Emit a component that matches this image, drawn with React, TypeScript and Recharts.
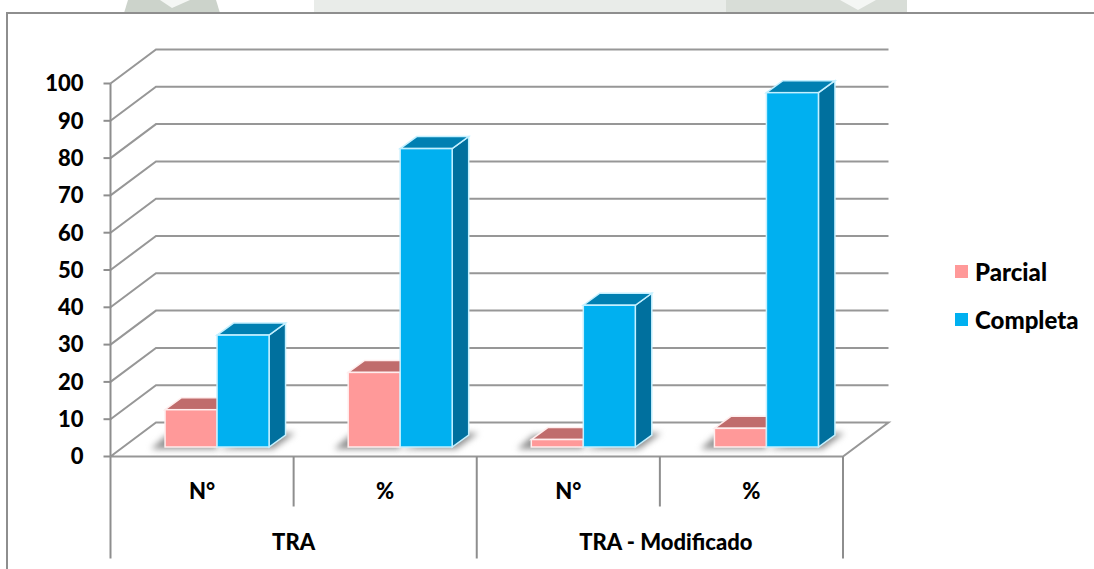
import { Bar, BarChart, CartesianGrid, Legend, XAxis, YAxis } from 'recharts'

const subLabels = ['N°', '%', 'N°', '%']
const groupLabels = ['TRA', 'TRA - Modificado']
const groupNudge = [0, 6]
const parcial = [10, 20, 2, 5]
const completa = [30, 80, 38, 95]
const yTicks = [0, 10, 20, 30, 40, 50, 60, 70, 80, 90, 100]

const chartData = subLabels.map((sub, i) => ({
  sub,
  Parcial: parcial[i],
  Completa: completa[i],
}))

const FONT = 'Lato, sans-serif'
const WEIGHT = 900
const GRID = '#979797'
const AXIS = '#8e8e8e'

const MARGIN = { top: 83.5, right: 251, bottom: 12.5, left: 60 }
const PLOT_LEFT = 110.5
const PLOT_RIGHT = 843
const PLOT_BOTTOM = 456.5
const BAND = (PLOT_RIGHT - PLOT_LEFT) / subLabels.length

// oblique offset of the back wall, and how far the bars stand from the front edge
const WALL_DX = 45.5
const WALL_DY = -34
const BAR_DX = 15
const BAR_DY = -9.5
const DEPTH_DX = 16.5
const DEPTH_DY = -12

function pts(list: number[][]) {
  return list.map((p) => p.join(',')).join(' ')
}

function WallLine({ x1, x2, y1 }: any) {
  // value 0 closes the floor, every other value runs along the side and back walls
  const points =
    y1 === PLOT_BOTTOM
      ? [
          [x1, y1],
          [x1 + WALL_DX, y1 + WALL_DY],
          [x2 + WALL_DX, y1 + WALL_DY],
          [x2, y1],
          [x1, y1],
        ]
      : [
          [x1, y1],
          [x1 + WALL_DX, y1 + WALL_DY],
          [x2 + WALL_DX, y1 + WALL_DY],
        ]
  return <polyline key={`wall-${y1}`} points={pts(points)} fill="none" stroke={GRID} strokeWidth={2} />
}

function Box({ x, y, width, height, front, top, side, edge, shadow }: any) {
  const l = x + BAR_DX
  const r = l + width
  const t = y + BAR_DY
  const b = t + height
  return (
    <g>
      <polygon points={pts(shadow(l, r, b))} fill="#8f8f8f" style={{ filter: 'blur(3px)' }} />
      <polygon
        points={pts([[r, t], [r + DEPTH_DX, t + DEPTH_DY], [r + DEPTH_DX, b + DEPTH_DY], [r, b]])}
        fill={side}
        stroke={edge}
        strokeWidth={1.5}
      />
      <polygon
        points={pts([[l, t], [l + DEPTH_DX, t + DEPTH_DY], [r + DEPTH_DX, t + DEPTH_DY], [r, t]])}
        fill={top}
        stroke={edge}
        strokeWidth={1.5}
      />
      <rect x={l} y={t} width={width} height={height} fill={front} stroke={edge} strokeWidth={1.5} />
    </g>
  )
}

function ParcialBox(props: any) {
  return (
    <Box
      {...props}
      front="#ff9999"
      top="#c06c6c"
      side="#c06c6c"
      edge="#ffeeee"
      shadow={(l: number, r: number, b: number) => [[l - 14, b + 2], [l + 2, b - 12], [r, b - 12], [r, b + 2]]}
    />
  )
}

function CompletaBox(props: any) {
  return (
    <Box
      {...props}
      front="#00b0f0"
      top="#0080b2"
      side="#00709e"
      edge="#c4f0ff"
      shadow={(l: number, r: number, b: number) => [[l, b + 2], [r + 4, b + 2], [r + 26, b - 14], [r, b - 14]]}
    />
  )
}

function CategoryTick({ x, payload, index }: any) {
  const text = { fontFamily: FONT, fontWeight: WEIGHT, fontSize: 22, fill: '#000', textAnchor: 'middle' as const }
  const left = x - BAND / 2
  const right = x + BAND / 2
  const startsGroup = index % 2 === 0
  return (
    <g>
      <text {...text} x={x} y={PLOT_BOTTOM + 42}>
        {payload.value}
      </text>
      <line x1={left} x2={left} y1={PLOT_BOTTOM} y2={startsGroup ? PLOT_BOTTOM + 102 : PLOT_BOTTOM + 50} stroke={AXIS} strokeWidth={2} />
      {index === subLabels.length - 1 && (
        <line x1={right} x2={right} y1={PLOT_BOTTOM} y2={PLOT_BOTTOM + 102} stroke={AXIS} strokeWidth={2} />
      )}
      {startsGroup && (
        <text {...text} x={right + groupNudge[index / 2]} y={PLOT_BOTTOM + 93}>
          {groupLabels[index / 2]}
        </text>
      )}
    </g>
  )
}

function LegendList({ payload }: any) {
  return (
    <div>
      {payload.map((item: any) => (
        <div key={item.value} style={{ display: 'flex', alignItems: 'center', height: 48 }}>
          <span style={{ width: 13, height: 13, background: item.color, marginRight: 7 }} />
          <span style={{ fontFamily: FONT, fontWeight: WEIGHT, fontSize: 24, color: '#000' }}>{item.value}</span>
        </div>
      ))}
    </div>
  )
}

// pale crest showing above the chart frame on the page behind it
function PageBackdrop() {
  return (
    <svg width={1094} height={13} style={{ position: 'absolute', left: 0, top: 0 }}>
      <rect x={314} y={0} width={412} height={13} fill="#e9ece9" />
      <rect x={726} y={0} width={181} height={13} fill="#d8ddd7" />
      <polygon points="124,13 128,0 216,0 220,13" fill="#ccd3cb" />
      <polygon points="160,0 172,8 190,0" fill="#f4f6f4" />
      <polygon points="840,0 858,10 876,0" fill="#f4f6f4" />
    </svg>
  )
}

export default function App() {
  return (
    <div style={{ position: 'absolute', left: 0, top: 0, width: 1094, height: 569, background: '#fff', overflow: 'hidden' }}>
      <PageBackdrop />
      <div
        style={{
          position: 'absolute',
          left: 6,
          top: 12,
          right: 0,
          bottom: 0,
          background: '#fff',
          borderLeft: `2px solid ${AXIS}`,
          borderTop: `2px solid ${AXIS}`,
        }}
      />
      <div style={{ position: 'absolute', left: 0, top: 0 }}>
        <BarChart width={1094} height={569} data={chartData} margin={MARGIN} barGap={0} barCategoryGap="21.6%">
          <CartesianGrid horizontal={WallLine} vertical={false} />
          <XAxis dataKey="sub" height={100} interval={0} axisLine={false} tickLine={false} tick={CategoryTick} />
          <YAxis
            width={50.5}
            domain={[0, 100]}
            ticks={yTicks}
            interval={0}
            axisLine={{ stroke: AXIS, strokeWidth: 2 }}
            tickLine={{ stroke: AXIS, strokeWidth: 2 }}
            tickSize={7}
            tickMargin={20}
            tick={{ fontFamily: FONT, fontWeight: WEIGHT, fontSize: 22, fill: '#000' }}
          />
          <Legend
            layout="vertical"
            align="center"
            verticalAlign="middle"
            itemSorter={null}
            content={LegendList}
            wrapperStyle={{ left: 955, top: 247, width: 139 }}
          />
          <Bar dataKey="Parcial" fill="#ff9999" isAnimationActive={false} shape={ParcialBox} />
          <Bar dataKey="Completa" fill="#00b0f0" isAnimationActive={false} shape={CompletaBox} />
        </BarChart>
      </div>
    </div>
  )
}
